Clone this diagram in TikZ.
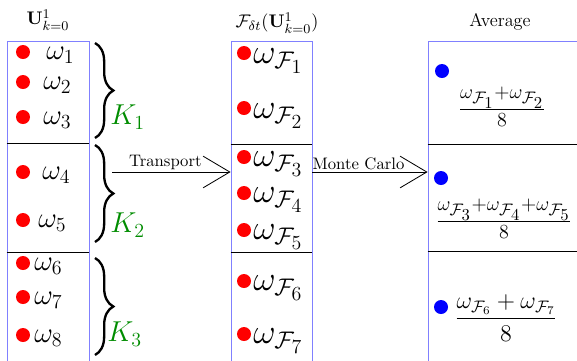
\documentclass[tikz,border=0pt]{standalone}
\usepackage{amssymb}
\usepackage{amsmath}
\usetikzlibrary{fit,calc,arrows.meta,decorations.pathreplacing}
\tikzset{
colbox/.style={draw=blue!50, line width=0.5pt, inner sep=0pt},
rdot/.style={circle, fill=red, inner sep=0pt, minimum size=8.4pt},
bdot/.style={circle, fill=blue, inner sep=0pt, minimum size=8.4pt},
wlab/.style={anchor=west, inner sep=0pt, font=\LARGE},
wflab/.style={anchor=west, inner sep=0pt, font=\huge},
klab/.style={anchor=west, inner sep=0pt, font=\LARGE, text=green!55!black},
coltitle/.style={font=\fontsize{11pt}{13pt}\selectfont},
big arrow/.style={-{Straight Barb[length=16pt, width=19pt, line width=0.5pt]}, line width=0.5pt},
kbrace/.style={decorate, decoration={brace, amplitude=11pt}, line width=1.4pt},
}

\begin{document}
\begin{tikzpicture}[x=0.6pt, y=-0.6pt]
\useasboundingbox (0,0) rectangle (577,360);

\node[coltitle] (titleL) at (48,20) {$\mathbf{U}^1_{k=0}$};
\node[coltitle] (titleM) at (277,23) {$\mathcal{F}_{\delta t}(\mathbf{U}^1_{k=0})$};
\node[coltitle] (titleR) at (500,22) {Average};

\node[colbox, fit={(7,41) (89,372)}] (boxL) {};
\node[colbox, fit={(231,41) (312,372)}] (boxM) {};
\node[colbox, fit={(428,41) (582,372)}] (boxR) {};

\draw (boxL.west |- 0,143) -- (boxL.east |- 0,143);
\draw (boxL.west |- 0,252) -- (boxL.east |- 0,252);
\draw (boxM.west |- 0,144) -- (boxM.east |- 0,144);
\draw (boxM.west |- 0,252) -- (boxM.east |- 0,252);
\draw (boxR.west |- 0,144) -- (boxR.east |- 0,144);
\draw (boxR.west |- 0,251) -- (boxR.east |- 0,251);

\node[rdot] (d1) at (23,52) {};
\node[rdot] (d2) at (23,82) {};
\node[rdot] (d3) at (23,117) {};
\node[rdot] (d4) at (23,172) {};
\node[rdot] (d5) at (23,220) {};
\node[rdot] (d6) at (23,263) {};
\node[rdot] (d7) at (23,297) {};
\node[rdot] (d8) at (23,335) {};
\node[wlab] (w1) at (46,55) {$\omega_1$};
\node[wlab] (w2) at (43,85) {$\omega_2$};
\node[wlab] (w3) at (43,120) {$\omega_3$};
\node[wlab] (w4) at (42,175) {$\omega_4$};
\node[wlab] (w5) at (38,223) {$\omega_5$};
\node[wlab] (w6) at (34,266) {$\omega_6$};
\node[wlab] (w7) at (34,300) {$\omega_7$};
\node[wlab] (w8) at (34,338) {$\omega_8$};

\coordinate (b1top) at (95,43);
\coordinate (b1bot) at (95,138);
\coordinate (b2top) at (95,145);
\coordinate (b2bot) at (95,242);
\coordinate (b3top) at (95,258);
\coordinate (b3bot) at (95,355);
\draw[kbrace] (b1top) -- (b1bot);
\draw[kbrace] (b2top) -- (b2bot);
\draw[kbrace] (b3top) -- (b3bot);
\node[klab] (K1) at (110,117) {$K_1$};
\node[klab] (K2) at (110,225) {$K_2$};
\node[klab] (K3) at (107,334) {$K_3$};

\node[rdot] (f1) at (244,53) {};
\node[rdot] (f2) at (244,108) {};
\node[rdot] (f3) at (244,157) {};
\node[rdot] (f4) at (244,193) {};
\node[rdot] (f5) at (244,230) {};
\node[rdot] (f6) at (244,281) {};
\node[rdot] (f7) at (244,334) {};
\node[wflab] (wf1) at (253,61) {$\omega_{\mathcal{F}_1}$};
\node[wflab] (wf2) at (253,116) {$\omega_{\mathcal{F}_2}$};
\node[wflab] (wf3) at (253,164) {$\omega_{\mathcal{F}_3}$};
\node[wflab] (wf4) at (253,200) {$\omega_{\mathcal{F}_4}$};
\node[wflab] (wf5) at (253,237) {$\omega_{\mathcal{F}_5}$};
\node[wflab] (wf6) at (253,288) {$\omega_{\mathcal{F}_6}$};
\node[wflab] (wf7) at (253,341) {$\omega_{\mathcal{F}_7}$};

\node[bdot] (a1) at (442,71) {};
\node[bdot] (a2) at (441,178) {};
\node[bdot] (a3) at (441,307) {};
\node[font=\LARGE, inner sep=0pt] (avg1) at (502,107) {$\frac{\omega_{\mathcal{F}_1}+\omega_{\mathcal{F}_2}}{8}$};
\node[font=\LARGE, inner sep=0pt] (avg2) at (504,219) {$\frac{\omega_{\mathcal{F}_3}+\omega_{\mathcal{F}_4}+\omega_{\mathcal{F}_5}}{8}$};
\node[font=\Large, inner sep=0pt] (avg3) at (506,318) {$\dfrac{\omega_{\mathcal{F}_6}+\omega_{\mathcal{F}_7}}{8}$};

\coordinate (trstart) at (112,172);
\draw[big arrow] (trstart) -- (boxM.west |- trstart) node[pos=0.45, above, inner sep=1pt] {Transport};
\draw[big arrow] (boxM.east |- 0,172) -- (boxR.west |- 0,172) node[pos=0.4, above, inner sep=1pt] {Monte Carlo};
\end{tikzpicture}
\end{document}
